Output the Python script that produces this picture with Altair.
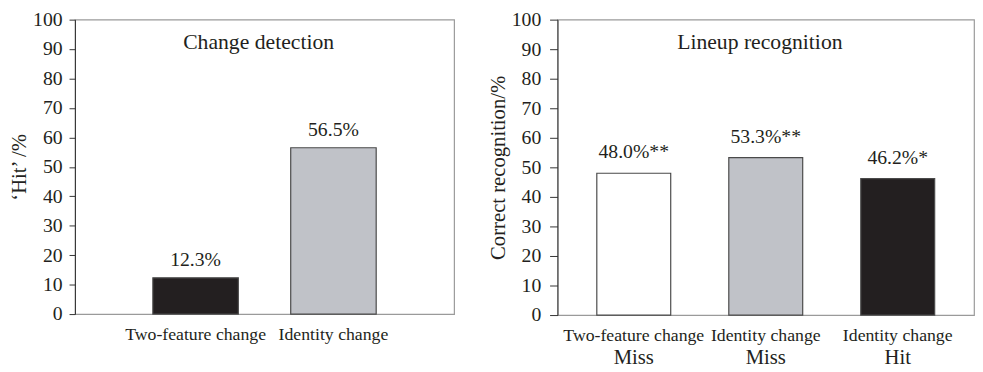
import altair as alt
import pandas as pd

# ---- data ----
left_cats = ["Two-feature change", "Identity change"]
left_vals = [12.3, 56.5]
left_labels = ["12.3%", "56.5%"]
left_colors = ["#231f20", "#c0c2c8"]

right_change = ["Two-feature change", "Identity change", "Identity change"]
right_outcome = ["Miss", "Miss", "Hit"]
right_vals = [48.0, 53.3, 46.2]
right_labels = ["48.0%**", "53.3%**", "46.2%*"]
right_colors = ["#ffffff", "#c0c2c8", "#231f20"]

y_ticks = list(range(0, 101, 10))
title_level = 90  # baseline of in-panel title, in axis units

FONT = "Liberation Serif"
INK = "#231f20"


def panel(df, domain, colors, width, height, title_text, y_title,
          p_inner, p_outer, dy, tick, lpad, tpad, label_expr=None, second_row=False):
    xaxis = dict(title=None, domain=False, ticks=False, labelAngle=0,
                 labelFontSize=18, labelPadding=12, labelColor=INK)
    if label_expr:
        xaxis["labelExpr"] = label_expr
    x = alt.X("key:N", sort=domain,
              scale=alt.Scale(domain=domain, paddingInner=p_inner, paddingOuter=p_outer),
              axis=alt.Axis(**xaxis))
    y = alt.Y("val:Q", scale=alt.Scale(domain=[0, 100], nice=False),
              axis=alt.Axis(values=y_ticks, title=y_title, grid=False, tickSize=tick,
                            tickColor="#333", domainColor="#333", labelFontSize=20,
                            labelOverlap=False, labelFlush=False,
                            labelPadding=lpad, titleFontSize=21, titlePadding=tpad,
                            labelColor=INK, titleColor=INK, titleFontWeight="normal"))
    base = alt.Chart(df)
    bars = base.mark_bar(stroke="#4a4a4a", strokeWidth=1.2).encode(
        x=x, y=y,
        color=alt.Color("key:N", scale=alt.Scale(domain=domain, range=colors), legend=None),
    )
    vals = base.mark_text(font=FONT, fontSize=20, dy=dy, baseline="alphabetic",
                          color=INK).encode(x=x, y=y, text="label:N")
    ttl = alt.Chart(pd.DataFrame({"t": [title_text], "val": [title_level]})).mark_text(
        font=FONT, fontSize=22, baseline="alphabetic", color=INK
    ).encode(x=alt.value(width / 2 - 6), y=y, text="t:N")
    layers = [bars, vals, ttl]
    if second_row:
        row2 = base.mark_text(font=FONT, fontSize=21, baseline="alphabetic",
                              color=INK).encode(x=x, y=alt.value(height + 50),
                                                text="outcome:N")
        layers.append(row2)
    return alt.layer(*layers).properties(width=width, height=height)


left_df = pd.DataFrame({"key": left_cats, "val": left_vals, "label": left_labels})
right_keys = [c + " | " + o for c, o in zip(right_change, right_outcome)]
right_df = pd.DataFrame({"key": right_keys, "val": right_vals, "label": right_labels,
                         "outcome": right_outcome})

left = panel(left_df, left_cats, left_colors, 385, 299, "Change detection",
             "\u2018Hit\u2019 /%", 0.38, 0.565, -12, tick=6, lpad=7, tpad=3)
right = panel(right_df, right_keys, right_colors, 423, 300, "Lineup recognition",
              "Correct recognition/%", 0.44, 0.298, -15, tick=8, lpad=9, tpad=3,
              label_expr="split(datum.label, ' | ')[0]", second_row=True)

chart = alt.hconcat(left, right, spacing=32).resolve_scale(
    color="independent", x="independent"
).properties(
    padding={"left": 0, "top": -2, "right": 0, "bottom": 0}
).configure_axis(
    labelFont=FONT, titleFont=FONT
).configure_text(font=FONT).configure_view(stroke="#9a9a9a", strokeWidth=1.2)

chart.save("out.html", embed_options={"renderer": "svg", "actions": False})
